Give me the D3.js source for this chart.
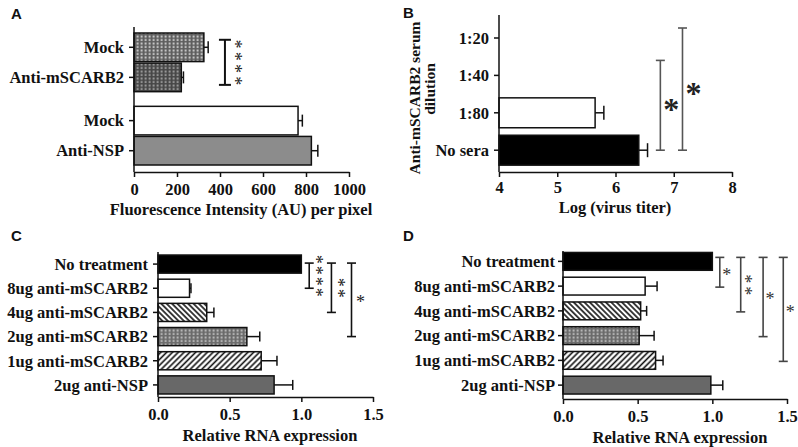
<!DOCTYPE html>
<html><head><meta charset="utf-8">
<script src="https://cdn.jsdelivr.net/npm/d3@7"></script>
<style>
body{margin:0;background:#fff}
</style>
</head><body>
<svg id="chart" width="798" height="447"></svg>
<script>
// ---------- DATA ----------
// Panel A
const aCategories = ["Mock", "Anti-mSCARB2", "Mock", "Anti-NSP"];
const aGroups = ["g1", "g1", "g2", "g2"];
const aValues = [325, 220, 763, 825];
const aErrors = [20, 10, 20, 30];
const aTicks = [0, 200, 400, 600, 800, 1000];
const aSig = [{from: 0, to: 1, at: 423, label: "****"}];
const aXLabel = "Fluorescence Intensity (AU) per pixel";

// Panel B
const bCategories = ["1:20", "1:40", "1:80", "No sera"];
const bValues = [null, null, 5.65, 6.40];
const bErrors = [null, null, 0.15, 0.15];
const bTicks = [4, 5, 6, 7, 8];
const bSig = [{from: 1, to: 3, at: 6.77, label: "*"}, {from: 0, to: 3, at: 7.15, label: "*"}];
const bXLabel = "Log (virus titer)";
const bYLabel = ["Anti-mSCARB2 serum", "dilution"];

// Panels C and D
const cdCategories = ["No treatment", "8ug anti-mSCARB2", "4ug anti-mSCARB2", "2ug anti-mSCARB2", "1ug anti-mSCARB2", "2ug anti-NSP"];
const cValues = [1.0, 0.22, 0.34, 0.62, 0.72, 0.81];
const cErrors = [0, 0.01, 0.05, 0.09, 0.11, 0.13];
const cSig = [{from: 0, to: 1, at: 1.055, label: "****"}, {from: 0, to: 2, at: 1.21, label: "**"}, {from: 0, to: 3, at: 1.35, label: "*"}];
const dValues = [1.0, 0.55, 0.52, 0.51, 0.62, 0.99];
const dErrors = [0, 0.08, 0.04, 0.10, 0.05, 0.08];
const dSig = [{from: 0, to: 1, at: 1.05, label: "*"}, {from: 0, to: 2, at: 1.19, label: "**"}, {from: 0, to: 3, at: 1.34, label: "*"}, {from: 0, to: 4, at: 1.475, label: "*"}];
const cdTicks = [0, 0.5, 1.0, 1.5];
const cdXLabel = "Relative RNA expression";

// ---------- STYLES ----------
const aFills = ["url(#dotsLight)", "url(#dotsDark)", "#ffffff", "#8c8c8c"];
const bFills = ["#ffffff", "#ffffff", "#ffffff", "#000000"];
const cdFills = ["#000000", "#ffffff", "url(#hatchBack)", "url(#dotsMid)", "url(#hatchFwd)", "#686868"];
const SERIF = "'Liberation Serif', 'Times New Roman', serif";
const FS = "16.5px";

const svg = d3.select("#chart");
const defs = svg.append("defs");

function dotPattern(id, bg, fg) {
  const p = defs.append("pattern").attr("id", id).attr("patternUnits", "userSpaceOnUse")
    .attr("width", 4).attr("height", 3.5);
  p.append("rect").attr("width", 4).attr("height", 3.5).attr("fill", bg);
  p.append("rect").attr("x", 0.6).attr("y", 0.5).attr("width", 2).attr("height", 2).attr("fill", fg);
}
dotPattern("dotsLight", "#5e5e5e", "#c8c8c8");
dotPattern("dotsDark", "#474747", "#9a9a9a");
dotPattern("dotsMid", "#6a6a6a", "#b8b8b8");

function hatch(id, angle, sp) {
  const p = defs.append("pattern").attr("id", id).attr("patternUnits", "userSpaceOnUse")
    .attr("width", sp).attr("height", sp).attr("patternTransform", `rotate(${angle})`);
  p.append("rect").attr("width", sp).attr("height", sp).attr("fill", "#fff");
  p.append("line").attr("x1", sp / 2).attr("x2", sp / 2).attr("y1", 0).attr("y2", sp)
    .attr("stroke", "#111").attr("stroke-width", 1.6);
}
hatch("hatchBack", -45, 3.8);
hatch("hatchFwd", 45, 4.1);

function label(sel) {
  return sel.style("font-family", SERIF).style("font-weight", "bold").style("font-size", FS).style("fill", "#111");
}

function drawPanel(cfg) {
  const g = svg.append("g");
  const x = d3.scaleLinear().domain(cfg.xDomain).range(cfg.xRange);
  const yc = i => cfg.yPos(i) + cfg.bw / 2;

  // bars
  cfg.values.forEach((v, i) => {
    if (v == null) return;
    g.append("rect")
      .attr("x", x(cfg.xDomain[0])).attr("y", cfg.yPos(i))
      .attr("width", x(v) - x(cfg.xDomain[0])).attr("height", cfg.bw)
      .attr("fill", cfg.fills[i]).attr("stroke", "#111").attr("stroke-width", 1.5);
  });
  // error bars
  cfg.values.forEach((v, i) => {
    const e = cfg.errors[i];
    if (v == null || !e) return;
    const x0 = x(v), x1 = x(v + e), c = yc(i), h = cfg.capH;
    g.append("line").attr("x1", x0).attr("x2", x1).attr("y1", c).attr("y2", c)
      .attr("stroke", "#111").attr("stroke-width", 1.5);
    g.append("line").attr("x1", x1).attr("x2", x1).attr("y1", c - h).attr("y2", c + h)
      .attr("stroke", "#111").attr("stroke-width", 1.5);
  });

  // x axis
  const ax = g.append("g").attr("transform", `translate(0,${cfg.axisY})`)
    .call(d3.axisBottom(x).tickValues(cfg.ticks).tickFormat(cfg.fmt).tickSize(5).tickSizeOuter(0).tickPadding(cfg.tickPad));
  ax.select(".domain").attr("stroke", "#111").attr("stroke-width", 1.5);
  ax.selectAll(".tick line").attr("stroke", "#111").attr("stroke-width", 1.5);
  label(ax.selectAll(".tick text"));

  // y axis
  const x0 = x(cfg.xDomain[0]);
  g.append("line").attr("x1", x0).attr("x2", x0).attr("y1", cfg.axisTop).attr("y2", cfg.axisY)
    .attr("stroke", "#111").attr("stroke-width", 1.5);
  cfg.categories.forEach((c, i) => {
    g.append("line").attr("x1", x0 - 5).attr("x2", x0).attr("y1", yc(i)).attr("y2", yc(i))
      .attr("stroke", "#111").attr("stroke-width", 1.5);
    label(g.append("text").attr("x", x0 - 5 - cfg.yPad).attr("y", yc(i)).attr("dy", "0.35em")
      .attr("text-anchor", "end").text(c));
  });

  // x label
  label(g.append("text").attr("x", cfg.xLabelPos[0]).attr("y", cfg.xLabelPos[1])
    .attr("text-anchor", "middle").text(cfg.xLabel));

  // panel letter
  g.append("text").attr("x", cfg.letterPos[0]).attr("y", cfg.letterPos[1])
    .style("font-family", "'Liberation Sans', Arial, sans-serif").style("font-weight", "bold")
    .style("font-size", "15px").style("fill", "#111").text(cfg.letter);

  // significance brackets
  cfg.sig.forEach(s => {
    const bx = x(s.at);
    const y1 = yc(s.from) - cfg.sigTop(s.from), y2 = yc(s.to) + cfg.sigBottom;
    const L = (a, b, c, d) => g.append("line").attr("x1", a).attr("x2", b).attr("y1", c).attr("y2", d)
      .attr("stroke", cfg.sigColor).attr("stroke-width", cfg.sigWidth);
    L(bx, bx, y1, y2);
    L(bx - cfg.capW, bx + cfg.capW, y1, y1);
    L(bx - cfg.capW, bx + cfg.capW, y2, y2);
    const mid = (y1 + y2) / 2;
    const cx = bx + cfg.starDx;
    const fs = cfg.starFS;
    const n = s.label.length;
    if (n === 1) {
      g.append("text").attr("x", cx).attr("y", mid + fs * 0.47).attr("text-anchor", "middle")
        .style("font-family", SERIF).style("font-weight", cfg.starWeight)
        .style("font-size", fs + "px").style("fill", cfg.starColor).text(s.label);
    } else {
      // stacked asterisks: one text element running downward
      const ls = cfg.starSp - fs * 0.5;
      g.append("text")
        .attr("transform", `translate(${cx - fs * 0.47},${mid}) rotate(90)`)
        .attr("x", ls / 2).attr("y", 0).attr("text-anchor", "middle")
        .style("font-family", SERIF).style("font-weight", cfg.starWeight)
        .style("letter-spacing", ls + "px")
        .style("font-size", fs + "px").style("fill", cfg.starColor).text(s.label);
    }
  });
}

// Panel A layout
const aOuter = d3.scaleBand().domain(["g1", "g2"]).range([33, 165]).paddingInner(0.2);
const aWithin = aGroups.map((gname, i) => aGroups.slice(0, i).filter(d => d === gname).length);
const aInner = d3.scaleBand().domain([0, 1]).range([0, aOuter.bandwidth()]).paddingInner(0.05);
drawPanel({
  categories: aCategories, values: aValues, errors: aErrors, fills: aFills,
  xDomain: [0, 1000], xRange: [134, 349], ticks: aTicks, fmt: d3.format("d"), tickPad: 6,
  yPos: i => aOuter(aGroups[i]) + aInner(aWithin[i]), bw: aInner.bandwidth(),
  axisTop: 27, axisY: 172, yPad: 5, capH: 6,
  xLabel: aXLabel, xLabelPos: [241, 215], letter: "A", letterPos: [11, 19],
  sig: aSig, sigTop: () => 7.5, sigBottom: 7.5, sigColor: "#111", sigWidth: 2, capW: 6,
  starDx: 13, starFS: 18, starSp: 12.3, starColor: "#222", starWeight: "normal"
});

// Panel B layout
const bY = d3.scaleBand().domain(bCategories).range([19.3, 168.9]).paddingInner(0.2).paddingOuter(0.1);
drawPanel({
  categories: bCategories, values: bValues, errors: bErrors, fills: bFills,
  xDomain: [4, 8], xRange: [499, 732], ticks: bTicks, fmt: d3.format("d"), tickPad: 4,
  yPos: i => bY(bCategories[i]), bw: bY.bandwidth(),
  axisTop: 15, axisY: 172, yPad: 5, capH: 7,
  xLabel: bXLabel, xLabelPos: [615, 212.5], letter: "B", letterPos: [403, 18],
  sig: bSig, sigTop: i => (i === 0 ? 10 : 15), sigBottom: 0, sigColor: "#555", sigWidth: 1.6, capW: 4.5,
  starDx: 11, starFS: 32, starSp: 0, starColor: "#222", starWeight: "bold"
});
// B y label (two lines)
label(svg.append("g").attr("transform", "translate(420,98) rotate(-90)")
  .append("text").attr("text-anchor", "middle").text(bYLabel[0])).style("font-size", "15.5px");
label(svg.append("g").attr("transform", "translate(435,89) rotate(-90)")
  .append("text").attr("text-anchor", "middle").text(bYLabel[1])).style("font-size", "15.5px");

// Panel C layout
const cY = d3.scaleBand().domain(cdCategories).range([252, 397]).paddingInner(0.25).paddingOuter(0.125);
drawPanel({
  categories: cdCategories, values: cValues, errors: cErrors, fills: cdFills,
  xDomain: [0, 1.5], xRange: [158, 373], ticks: cdTicks, fmt: d3.format(".1f"), tickPad: 6,
  yPos: i => cY(cdCategories[i]), bw: cY.bandwidth(),
  axisTop: 252, axisY: 397, yPad: 5, capH: 5,
  xLabel: cdXLabel, xLabelPos: [270, 441], letter: "C", letterPos: [11, 241],
  sig: cSig, sigTop: () => 1, sigBottom: 0, sigColor: "#111", sigWidth: 1.6, capW: 4.5,
  starDx: 9, starFS: 18, starSp: 11, starColor: "#222", starWeight: "normal"
});

// Panel D layout
const dY = d3.scaleBand().domain(cdCategories).range([249, 397.5]).paddingInner(0.28).paddingOuter(0.14);
drawPanel({
  categories: cdCategories, values: dValues, errors: dErrors, fills: cdFills,
  xDomain: [0, 1.5], xRange: [563, 787], ticks: cdTicks, fmt: d3.format(".1f"), tickPad: 6,
  yPos: i => dY(cdCategories[i]), bw: dY.bandwidth(),
  axisTop: 251, axisY: 399, yPad: 3, capH: 5,
  xLabel: cdXLabel, xLabelPos: [680, 443], letter: "D", letterPos: [403, 241],
  sig: dSig, sigTop: () => 4, sigBottom: 1, sigColor: "#444", sigWidth: 1.6, capW: 4.5,
  starDx: 7, starFS: 18, starSp: 12, starColor: "#333", starWeight: "normal"
});
</script>
</body></html>
